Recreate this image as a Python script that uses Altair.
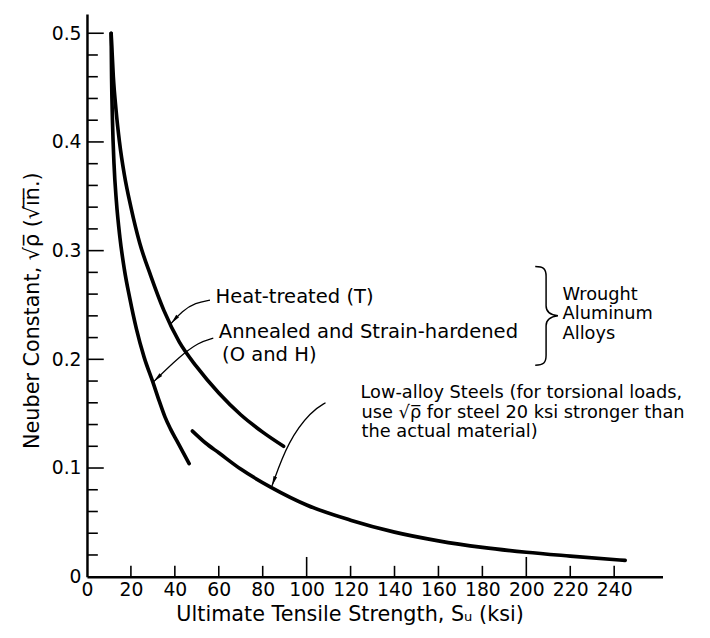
import math
import altair as alt
import pandas as pd

# ---------------- data ----------------
heat_su = [11, 12, 13.2, 14.8, 17, 20, 24, 29, 35, 42, 50, 60, 70, 80, 89.5]
heat_rho = [0.5, 0.46, 0.43, 0.4, 0.37, 0.34, 0.307, 0.277, 0.245, 0.216, 0.193, 0.169, 0.149, 0.133, 0.12]

ann_su = [11, 11.2, 11.6, 12.3, 13.4, 15, 17, 19.5, 22.5, 26, 30, 33, 35.5, 38, 41.5, 46.5]
ann_rho = [0.5, 0.46, 0.42, 0.38, 0.345, 0.312, 0.283, 0.256, 0.228, 0.202, 0.179, 0.161, 0.147, 0.136, 0.123, 0.104]

steel_su = [48, 54, 60, 70, 84, 100, 120, 140, 160, 180, 200, 220, 245]
steel_rho = [0.134, 0.123, 0.114, 0.099, 0.082, 0.066, 0.052, 0.041, 0.033, 0.027, 0.0225, 0.019, 0.015]

x_label_values = [0, 20, 40, 60, 80, 100, 120, 140, 160, 180, 200, 220, 240]
y_label_values = [0, 0.1, 0.2, 0.3, 0.4, 0.5]
x_minor_ticks = [20, 40, 60, 80, 120, 140, 160, 180, 220, 240]
x_major_ticks = [100, 200]
y_major_ticks = [0.1, 0.2, 0.3, 0.4, 0.5]
y_minor_ticks = [round(0.02 * i, 2) for i in range(1, 25) if i % 5 != 0]

# annotation texts (left anchor in data units)
label_text = ["Heat-treated (T)", "Annealed and Strain-hardened", "(O and H)",
              "Wrought", "Aluminum", "Alloys",
              "Low-alloy Steels (for torsional loads,",
              "use \u221a\u03c1\u0305  for steel 20 ksi stronger than",
              "the actual material)"]
label_su = [58.5, 60.0, 61.5, 216.5, 216.5, 216.5, 124.5, 125.0, 125.0]
label_rho = [0.257, 0.225, 0.204, 0.2595, 0.2415, 0.2235, 0.169, 0.151, 0.1335]
label_group = ["alu", "alu", "alu", "brace", "brace", "brace", "steel", "steel", "steel"]

# leader arrows (path points, last one is the arrow tip)
arrow_heat_su = [56.0, 49.4, 43.3, 38.3]
arrow_heat_rho = [0.2545, 0.252, 0.2445, 0.233]
arrow_ann_su = [57.5, 50.9, 41.8, 30.4]
arrow_ann_rho = [0.2195, 0.2157, 0.202, 0.1795]
arrow_steel_su = [108.6, 102.2, 91.6, 84.2]
arrow_steel_rho = [0.160, 0.1526, 0.125, 0.0835]

brace_su = [209.0]
brace_rho = [0.240]

# ---------------- layout ----------------
W, H = 583, 570
X_MAX = 262.0
Y_MAX = 0.5177
FONT = "DejaVu Sans"
TICK_FS = 19
TITLE_FS = 21
NOTE_FS = {"alu": 19.8, "brace": 18.0, "steel": 18.0}

xs = alt.Scale(domain=[0, X_MAX], nice=False, zero=True)
ys = alt.Scale(domain=[0, Y_MAX], nice=False, zero=True)

rows = []
for name, sx, sy in [("heat", heat_su, heat_rho), ("ann", ann_su, ann_rho), ("steel", steel_su, steel_rho)]:
    for i, (a, b) in enumerate(zip(sx, sy)):
        rows.append({"series": name, "su": a, "rho": b, "o": i})
curves = pd.DataFrame(rows)

xaxis = alt.Axis(values=x_label_values, ticks=False, grid=False, domainColor="black",
                 domainWidth=2.5, labelFont=FONT, labelFontSize=TICK_FS, labelColor="black",
                 labelPadding=4, labelFlush=False, labelOverlap=False,
                 title="Ultimate Tensile Strength, S\u1d64 (ksi)", titleFont=FONT,
                 titleFontSize=TITLE_FS, titleFontWeight="normal", titleColor="black",
                 titleX=266, titleY=38, titleAlign="center", titleBaseline="middle")
yaxis = alt.Axis(values=y_label_values, ticks=False, grid=False, domainColor="black",
                 domainWidth=2.5, labelFont=FONT, labelFontSize=TICK_FS, labelColor="black",
                 labelPadding=6, labelFlush=False, labelOverlap=False,
                 labelExpr="datum.value == 0 ? '0' : format(datum.value, '.1f')",
                 title="Neuber Constant, \u221a\u03c1\u0305 (\u221ai\u0305n\u0305.)", titleFont=FONT,
                 titleFontSize=TITLE_FS, titleFontWeight="normal", titleColor="black",
                 titleX=-55, titleY=300, titleAngle=270, titleAlign="center",
                 titleBaseline="middle")

lines = alt.Chart(curves).mark_line(color="black", strokeWidth=3.7, interpolate="monotone",
                                    strokeCap="round").encode(
    x=alt.X("su:Q", scale=xs, axis=xaxis),
    y=alt.Y("rho:Q", scale=ys, axis=yaxis),
    detail="series:N",
    order="o:Q",
)

# inward ticks
xt = pd.DataFrame({"v": x_minor_ticks + x_major_ticks,
                   "len": [11] * len(x_minor_ticks) + [20] * len(x_major_ticks)})
xticks = alt.Chart(xt).transform_calculate(
    y0="0", yt=f"{Y_MAX} * datum.len / {H}"
).mark_rule(color="black", strokeWidth=1.6).encode(
    x=alt.X("v:Q", scale=xs),
    y=alt.Y("y0:Q", scale=ys),
    y2=alt.Y2("yt:Q"),
)

yt = pd.DataFrame({"v": y_minor_ticks + y_major_ticks,
                   "len": [11] * len(y_minor_ticks) + [17] * len(y_major_ticks)})
yticks = alt.Chart(yt).transform_calculate(
    x0="0", xt=f"{X_MAX} * datum.len / {W}"
).mark_rule(color="black", strokeWidth=1.6).encode(
    y=alt.Y("v:Q", scale=ys),
    x=alt.X("x0:Q", scale=xs),
    x2=alt.X2("xt:Q"),
)

# texts
texts = pd.DataFrame({"t": label_text, "su": label_su, "rho": label_rho,
                      "fs": [NOTE_FS[g] for g in label_group]})
text_layer = alt.Chart(texts).mark_text(align="left", baseline="middle", font=FONT,
                                        color="black").encode(
    x=alt.X("su:Q", scale=xs), y=alt.Y("rho:Q", scale=ys), text="t:N",
    size=alt.Size("fs:Q", scale=None, legend=None))

# arrows
arows = []
heads = []
for name, ax, ay in [("h", arrow_heat_su, arrow_heat_rho), ("a", arrow_ann_su, arrow_ann_rho),
                     ("s", arrow_steel_su, arrow_steel_rho)]:
    for i, (a, b) in enumerate(zip(ax, ay)):
        arows.append({"id": name, "su": a, "rho": b, "o": i})
    dx = (ax[-1] - ax[-2]) * W / X_MAX
    dy = -(ay[-1] - ay[-2]) * H / Y_MAX
    ang = math.degrees(math.atan2(dx, -dy)) % 360
    heads.append({"su": ax[-1], "rho": ay[-1], "ang": ang})
arrow_lines = alt.Chart(pd.DataFrame(arows)).mark_line(color="black", strokeWidth=1.3,
                                                       interpolate="basis").encode(
    x=alt.X("su:Q", scale=xs), y=alt.Y("rho:Q", scale=ys), detail="id:N", order="o:Q")
arrow_heads = alt.Chart(pd.DataFrame(heads)).mark_point(
    shape="M0,0 L0.32,1.7 L-0.32,1.7 Z", filled=True, color="black", size=140, opacity=1
).encode(x=alt.X("su:Q", scale=xs), y=alt.Y("rho:Q", scale=ys),
         angle=alt.Angle("ang:Q", scale=None))

brace = alt.Chart(pd.DataFrame({"su": brace_su, "rho": brace_rho})).mark_point(
    shape="M-0.22,-1 C-0.05,-1 0,-0.95 0,-0.8 L0,-0.2 C0,-0.08 0.08,-0.02 0.24,0 "
          "C0.08,0.02 0,0.08 0,0.2 L0,0.8 C0,0.95 -0.05,1 -0.22,1",
    filled=False, stroke="black", strokeWidth=1.5, size=10000, opacity=1
).encode(x=alt.X("su:Q", scale=xs), y=alt.Y("rho:Q", scale=ys))

chart = alt.layer(lines, xticks, yticks, arrow_lines, arrow_heads, brace, text_layer).properties(
    width=W, height=H,
    autosize=alt.AutoSizeParams(type="none"),
    padding={"left": 80, "top": 2, "right": 40, "bottom": 58},
    background="white",
).configure_view(stroke=None)

chart.save("out.html", embed_options={"renderer": "svg", "actions": False})
